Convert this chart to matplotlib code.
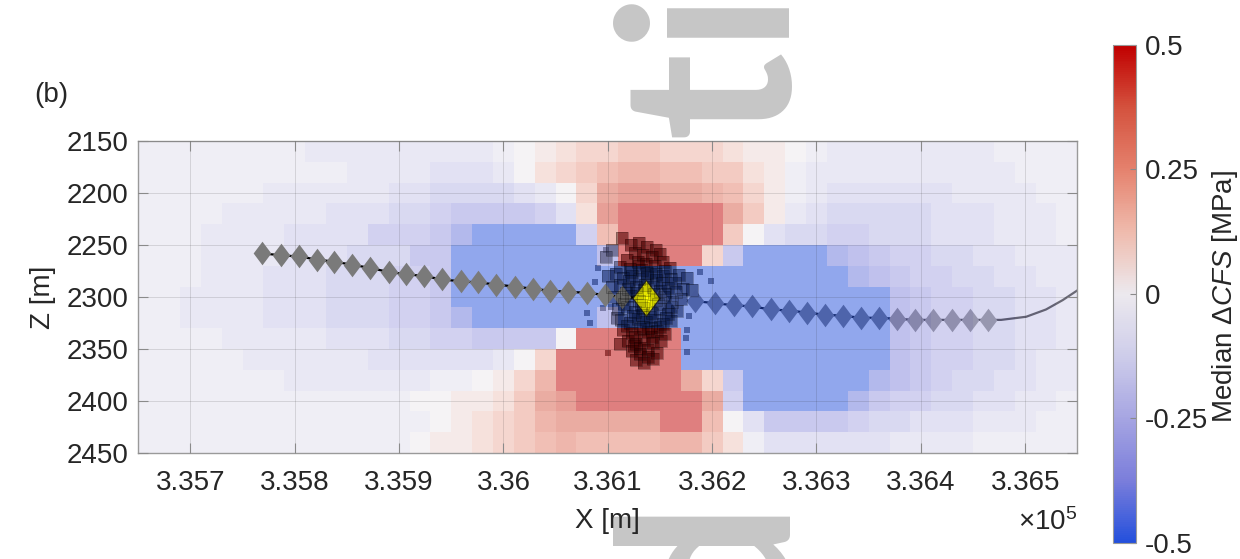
import matplotlib

matplotlib.use("Agg")
import matplotlib.pyplot as plt
import numpy as np
from matplotlib.cm import ScalarMappable
from matplotlib.colors import LinearSegmentedColormap, Normalize
from matplotlib.path import Path

plt.rcParams["font.family"] = ["Liberation Sans", "DejaVu Sans"]
plt.rcParams["mathtext.fontset"] = "custom"
plt.rcParams["mathtext.rm"] = "Liberation Sans"
plt.rcParams["mathtext.it"] = "Liberation Sans:italic"

# median dCFS [MPa] on 20 m cells, rows from Z=2150 (top) down to Z=2450
# codes: '.' = 0, '1'..'9' = -0.05..-0.45, 'B' = below -0.5,
#        'a'..'i' = 0.05..0.45, 'R' = above 0.5
dcfs_rows = [
    "111111112222222221.abccddcccbaa.1222222221111",
    "111111111122223332.bcdeffeeddba12222222222111",
    "11111122222233444432.cghhggfeca12333333222211",
    "111122222333445666653bhRRRRRgda23444443332221",
    "1112222333355568BBBBB5eRRRRRd.344554443332221",
    "111222233344466BBBBBBB7RRRRc6BBBB876554433222",
    "111222333444556BBBBBBBBBBBBBBBBBBB87655443322",
    "112222333444556BBBBBBBBBBBBBBBBBBBBB765544332",
    "1122223334445568BBBBBB7BBBBBBBBBBBBB765544332",
    "11112222233344556666.RRRRRBBBBBBBBBB765544332",
    "111112222223333332.cRRRRRRBBBBBBBBBB765544322",
    "1111111222222211.acfRRRRRRgc6BBBBBB8765443322",
    "1111111111111..aabdghRRRRRRg5BBBBB86554433221",
    "11111111111111.abcdfgggggRRe.3666654433322211",
    "1111111111111.aabcdefeeeeffdb1333333222211111",
]
code_value = {".": 0.0, "B": -0.55, "R": 0.55}
code_value.update({str(k): -0.05 * k for k in range(1, 10)})
code_value.update({c: 0.05 * (k + 1) for k, c in enumerate("abcdefghi")})
dcfs = np.array([[code_value[c] for c in row] for row in dcfs_rows])

cell = 20
x_edges = 335650 + cell * np.arange(dcfs.shape[1] + 1)
z_edges = 2150 + cell * np.arange(dcfs.shape[0] + 1)

# monitoring points along the well, west and east of the injection point
sensor_w_x = [335769, 335787, 335804, 335821, 335838, 335855, 335872, 335890, 335907, 335924, 335941,
              335959, 335976, 335993, 336011, 336028, 336045, 336062, 336080, 336097, 336114]
sensor_w_z = [2258, 2260, 2261, 2264, 2266, 2269, 2272, 2276, 2278, 2280, 2283,
              2285, 2286, 2288, 2290, 2292, 2294, 2295, 2296, 2298, 2300]
sensor_e_x = [336150, 336167, 336184, 336203, 336221, 336238, 336256, 336274, 336291, 336308,
              336325, 336343, 336360, 336377, 336394, 336412, 336430, 336447, 336464]
sensor_e_z = [2302, 2303, 2304, 2306, 2308, 2309, 2312, 2313, 2315, 2317,
              2318, 2320, 2320, 2321, 2322, 2322, 2322, 2322, 2322]
injection_x, injection_z = 336137, 2301
well_tail_x = [336477, 336501, 336520, 336536, 336551, 336564]
well_tail_z = [2322, 2319, 2312, 2303, 2293, 2285]

# induced events
event_x = [336114, 336122, 336130, 336138, 336146, 336126, 336134, 336142, 336150, 336118, 336129,
           336137, 336145, 336153, 336160, 336112, 336121, 336133, 336141, 336155, 336104, 336098,
           336100, 336108, 336115, 336123, 336130, 336138, 336146, 336153, 336161, 336168, 336176,
           336104, 336112, 336119, 336127, 336135, 336143, 336150, 336158, 336165, 336172, 336181,
           336106, 336114, 336122, 336130, 336146, 336154, 336162, 336170,
           336110, 336118, 336126, 336134, 336142, 336150, 336158, 336166,
           336113, 336121, 336129, 336137, 336145, 336153, 336161,
           336115, 336123, 336131, 336139, 336147, 336155, 336119, 336127, 336135, 336143,
           336151, 336123, 336131, 336139, 336147, 336127, 336135, 336143, 336112,
           336120, 336128, 336136, 336144, 336152, 336116, 336124, 336132, 336140, 336148,
           336156, 336118, 336126, 336134, 336142, 336150, 336122, 336130, 336138, 336146,
           336117, 336155, 336161, 336109, 336164, 336125, 336139, 336131, 336141, 336133]
event_z = [2243, 2250, 2248, 2252, 2255, 2258, 2260, 2262, 2259, 2264, 2266,
           2268, 2270, 2266, 2272, 2271, 2273, 2274, 2276, 2275, 2255, 2262,
           2280, 2278, 2282, 2280, 2283, 2281, 2284, 2280, 2283, 2279, 2282,
           2290, 2288, 2292, 2290, 2293, 2290, 2294, 2291, 2295, 2292, 2293,
           2300, 2302, 2299, 2304, 2303, 2300, 2305, 2302,
           2312, 2310, 2314, 2311, 2315, 2312, 2316, 2313,
           2322, 2325, 2321, 2324, 2322, 2326, 2323,
           2332, 2335, 2331, 2334, 2333, 2336, 2342, 2345, 2341, 2344,
           2342, 2352, 2355, 2351, 2354, 2361, 2363, 2360, 2345,
           2285, 2296, 2288, 2297, 2287, 2307, 2318, 2308, 2319, 2307,
           2320, 2328, 2338, 2329, 2338, 2329, 2276, 2270, 2277, 2278,
           2296, 2297, 2310, 2320, 2287, 2347, 2358, 2349, 2330, 2317]
event_far_x = [336080, 336083, 336088, 336091, 336095, 336103, 336098, 336100,
               336176, 336175, 336176, 336199, 336188, 336178, 336186]
event_far_z = [2315, 2325, 2286, 2272, 2311, 2310, 2255, 2354,
               2332, 2339, 2353, 2285, 2276, 2318, 2305]

cmap = LinearSegmentedColormap.from_list(
    "dcfs",
    [(0.0, "#2450dc"), (0.125, "#7b7edb"), (0.25, "#a6a5e2"), (0.375, "#cecdea"),
     (0.5, "#ece9ee"), (0.625, "#efbbad"), (0.75, "#e5826e"), (0.875, "#d4523e"),
     (1.0, "#c00000")],
)
norm = Normalize(vmin=-0.5, vmax=0.5)

diamond = Path([(0, 1), (0.75, 0), (0, -1), (-0.75, 0), (0, 1)],
               [Path.MOVETO, Path.LINETO, Path.LINETO, Path.LINETO, Path.CLOSEPOLY])

fig = plt.figure(figsize=(12.4, 5.59), dpi=100)

# large grey watermark behind the plot
fig.text(0.6387, 0.2934, "Article", rotation=90, rotation_mode="anchor", ha="left",
         va="baseline", fontsize=171, family="Lato", weight="bold", color="#c6c6c6", zorder=-5)
fig.text(0.6387, 0.1020, "Accepted", rotation=90, rotation_mode="anchor", ha="right",
         va="baseline", fontsize=171, family="Lato", weight="bold", color="#c6c6c6", zorder=-5)

ax = fig.add_axes([0.1115, 0.1896, 0.7573, 0.5582])
ax.set_facecolor("white")

# events and the eastern branch sit under the semi-transparent stress map
ax.scatter(event_x, event_z, s=85, marker="s", color="black", alpha=0.5, linewidths=0, zorder=1)
ax.scatter(event_far_x, event_far_z, s=16, marker="s", color="black", alpha=0.55, linewidths=0, zorder=1)
ax.plot([injection_x] + sensor_e_x + well_tail_x, [injection_z] + sensor_e_z + well_tail_z,
        color="black", lw=1.6, zorder=1.2)
ax.plot(sensor_e_x, sensor_e_z, ls="none", marker=diamond, ms=17, color="#7a7a7a", mew=0, zorder=1.3)

ax.pcolormesh(x_edges, z_edges, dcfs, cmap=cmap, norm=norm, alpha=0.5, shading="flat",
              antialiased=False, zorder=2)

ax.plot(sensor_w_x + [injection_x], sensor_w_z + [injection_z], color="black", lw=1.6, zorder=3)
ax.plot(sensor_w_x, sensor_w_z, ls="none", marker=diamond, ms=17, color="#7a7a7a", mew=0, zorder=3.1)
ax.plot([injection_x], [injection_z], ls="none", marker=diamond, ms=26, color="#ffff00",
        mec="#333333", mew=0.8, zorder=4)
# faint event squares on top darken the dense core
ax.scatter(event_x, event_z, s=85, marker="s", facecolors=(0, 0, 0, 0.1),
           edgecolors=(0, 0, 0, 0.25), linewidths=0.6, zorder=5)

ax.set_xlim(335650, 336550)
ax.set_ylim(2450, 2150)
xticks = np.arange(335700, 336501, 100)
ax.set_xticks(xticks)
ax.set_xticklabels([f"{v / 1e5:g}" for v in xticks])
ax.set_yticks(np.arange(2150, 2451, 50))
ax.set_axisbelow(False)
ax.grid(True, color="#262626", alpha=0.14, linewidth=0.7)
ax.tick_params(direction="in", length=7, width=0.8, color="#8a8a8a", labelcolor="#262626",
               labelsize=20, top=True, right=True)
ax.tick_params(axis="x", pad=12)
ax.tick_params(axis="y", pad=7)
for sp in ax.spines.values():
    sp.set_color("#9a9a9a")
    sp.set_linewidth(1.0)
ax.set_xlabel("X [m]", fontsize=20, color="#262626", labelpad=9)
ax.set_ylabel("Z [m]", fontsize=20, color="#262626", labelpad=8)
ax.text(1.0, -0.221, r"$\times$10$^5$", transform=ax.transAxes, ha="right", va="center",
        fontsize=20, color="#262626")

fig.text(0.028, 0.83, "(b)", fontsize=20, color="#262626", va="center")

cax = fig.add_axes([0.8978, 0.0286, 0.0185, 0.891])
cb = fig.colorbar(ScalarMappable(norm=norm, cmap=cmap), cax=cax)
cb.set_ticks([-0.5, -0.25, 0, 0.25, 0.5])
cb.set_ticklabels(["-0.5", "-0.25", "0", "0.25", "0.5"])
cb.outline.set_edgecolor("#9a9a9a")
cb.outline.set_linewidth(0.8)
cax.tick_params(direction="in", length=4, width=0.8, color="#8a8a8a", labelcolor="#262626",
                labelsize=20, pad=6)
fig.text(0.988, 0.47, r"Median $\Delta\mathit{CFS}$ [MPa]", rotation=90, ha="center",
         va="center", fontsize=20, color="#262626")

fig.savefig("out.png", dpi=100, facecolor="white")
